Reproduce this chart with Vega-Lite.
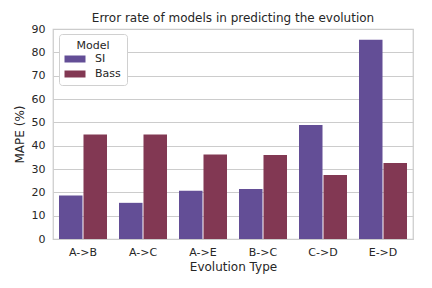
{
  "$schema": "https://vega.github.io/schema/vega-lite/v6.json",
  "autosize": "none",
  "width": 360,
  "height": 210,
  "padding": {"left": 53, "top": 29, "right": 19, "bottom": 49},
  "background": "white",
  "title": {"text": "Error rate of models in predicting the evolution", "fontSize": 12, "font": "DejaVu Sans", "fontWeight": "normal", "color": "#262626", "offset": -2, "anchor": "middle"},
  "config": {
    "font": "DejaVu Sans",
    "view": {"stroke": "#cccccc", "strokeWidth": 1.25},
    "axis": {"labelFont": "DejaVu Sans", "titleFont": "DejaVu Sans", "labelColor": "#262626", "titleColor": "#262626", "titleFontWeight": "normal", "domain": false, "ticks": false, "gridColor": "#cccccc", "gridWidth": 1}
  },
  "data": {"values": [
    {"type": "A->B", "model": "SI", "mape": 18.6},
    {"type": "A->B", "model": "Bass", "mape": 44.8},
    {"type": "A->C", "model": "SI", "mape": 15.5},
    {"type": "A->C", "model": "Bass", "mape": 44.8},
    {"type": "A->E", "model": "SI", "mape": 20.7},
    {"type": "A->E", "model": "Bass", "mape": 36.2},
    {"type": "B->C", "model": "SI", "mape": 21.4},
    {"type": "B->C", "model": "Bass", "mape": 36.0},
    {"type": "C->D", "model": "SI", "mape": 48.9},
    {"type": "C->D", "model": "Bass", "mape": 27.4},
    {"type": "E->D", "model": "SI", "mape": 85.4},
    {"type": "E->D", "model": "Bass", "mape": 32.6}
  ]},
  "mark": {"type": "bar"},
  "encoding": {
    "x": {"field": "type", "type": "nominal", "sort": null,
      "scale": {"paddingInner": 0.2, "paddingOuter": 0.1},
      "axis": {"title": "Evolution Type", "labelAngle": 0, "labelFontSize": 11, "titleFontSize": 12, "labelPadding": 7, "titlePadding": 4, "grid": false}},
    "xOffset": {"field": "model", "type": "nominal", "sort": ["SI", "Bass"], "scale": {"paddingInner": 0.04}},
    "y": {"field": "mape", "type": "quantitative",
      "scale": {"domain": [0, 90], "nice": false},
      "axis": {"title": "MAPE (%)", "values": [0,10,20,30,40,50,60,70,80,90], "labelFontSize": 11, "titleFontSize": 12, "labelPadding": 8, "titlePadding": 5, "grid": true}},
    "color": {"field": "model", "type": "nominal", "sort": ["SI", "Bass"],
      "scale": {"domain": ["SI", "Bass"], "range": ["#634e96", "#823853"]},
      "legend": {"title": "Model", "orient": "none", "legendX": 6, "legendY": 5,
        "titleFontSize": 11, "titleFont": "DejaVu Sans", "titleFontWeight": "normal", "titleColor": "#262626", "titleAnchor": "middle", "titleAlign": "center", "titlePadding": 1,
        "labelFontSize": 11, "labelFont": "DejaVu Sans", "labelColor": "#262626",
        "symbolType": "M-1.5,-0.5H1.5V0.5H-1.5Z", "symbolSize": 196, "symbolStrokeWidth": 0, "symbolOpacity": 1, "symbolOffset": 3,
        "labelOffset": 13, "rowPadding": 3, "padding": 6,
        "strokeColor": "#d0d0d0", "fillColor": "white", "cornerRadius": 3}}
  }
}
